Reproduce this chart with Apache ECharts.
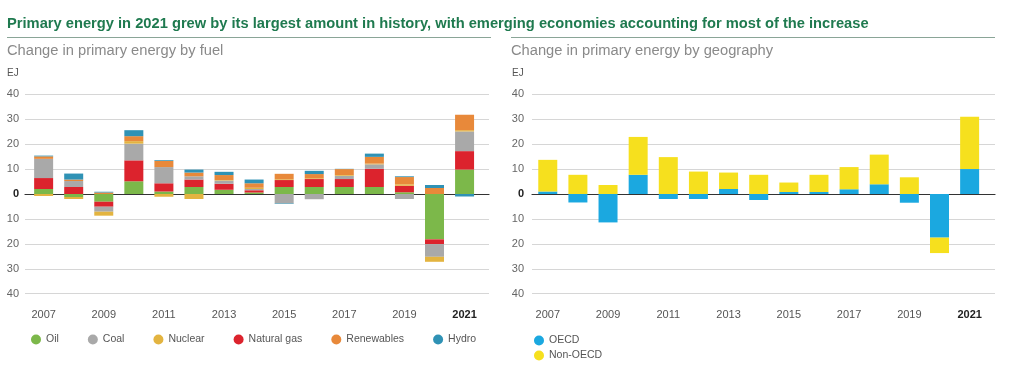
<!DOCTYPE html>
<html>
<head>
<meta charset="utf-8">
<script src="https://cdn.jsdelivr.net/npm/echarts@6/dist/echarts.min.js"></script>
<style>
html,body{margin:0;padding:0;background:#fff;}
#c{width:1009px;height:372px;}
</style>
</head>
<body>
<div id="c"></div>
<script>
// ---- data ----
var years = ['2007','2008','2009','2010','2011','2012','2013','2014','2015','2016','2017','2018','2019','2020','2021'];
var oil     = [2.0, -1.2, -3.1, 5.1, 1.0, 2.8, 1.7, 0.6, 2.8, 2.8, 2.8, 2.8, 0.7, -18.2, 9.8];
var gas     = [4.4, 2.8, -2.0, 8.4, 3.3, 3.0, 2.4, 0.9, 2.8, 3.2, 3.2, 7.3, 2.6, -1.9, 7.4];
var coal    = [7.7, 2.4, -2.0, 6.7, 6.5, 1.3, 1.3, 0.5, -3.8, -2.1, 1.3, 1.8, -2.0, -5.1, 7.9];
var nuclear = [-0.8, -0.8, -1.6, 1.0, -1.1, -2.0, 0.2, 0.5, 0.3, 0.3, 0.3, 0.3, 0.6, -2.0, 0.5];
var renew   = [1.0, 0.6, 0.6, 2.0, 2.5, 1.5, 2.0, 1.8, 2.2, 1.7, 2.4, 2.7, 2.9, 2.4, 6.2];
var hydro   = [0.3, 2.4, 0.3, 2.4, 0.3, 1.2, 1.3, 1.5, -0.2, 1.3, 0.1, 1.3, 0.3, 1.2, -1.0];
var oecd    = [1.0, -3.4, -11.4, 7.7, -2.0, -2.0, 2.0, -2.4, 0.8, 0.8, 1.9, 3.9, -3.5, -17.5, 10.0];
var nonOecd = [12.7, 7.7, 3.6, 15.2, 14.8, 9.0, 6.6, 7.7, 3.8, 6.9, 8.9, 11.9, 6.7, -6.2, 21.0];
var yTicks  = {min: -40, max: 40, interval: 10};
var fuelLegend = ['Oil','Coal','Nuclear','Natural gas','Renewables','Hydro'];
var geoLegend = ['OECD','Non-OECD'];
var titleText = 'Primary energy in 2021 grew by its largest amount in history, with emerging economies accounting for most of the increase';
var leftSub = 'Change in primary energy by fuel';
var rightSub = 'Change in primary energy by geography';
var unit = 'EJ';

// ---- styles ----
var C = {oil:'#7cb84a', coal:'#a9a9a9', nuclear:'#e3b440', gas:'#dc232d', renew:'#e8893a', hydro:'#2f92b5', oecd:'#1ba8e0', non:'#f6e01e'};
var FONT = 'Liberation Sans, Arial, sans-serif';
var TOP = 94.3, H = 199.4;

var chart = echarts.init(document.getElementById('c'), null, {renderer:'canvas'});

function bgY(gi, margin){
  return {type:'value', gridIndex:gi, min:yTicks.min, max:yTicks.max, interval:yTicks.interval,
    axisLine:{show:false}, axisTick:{show:false},
    splitLine:{lineStyle:{color:'#d6d6d6', width:1}},
    axisLabel:{margin:margin, color:'#666', fontSize:11, fontFamily:FONT,
      formatter:function(v){ return v===0 ? '{b|0}' : String(Math.abs(v)); },
      rich:{b:{fontWeight:'bold', color:'#222', fontSize:11, fontFamily:FONT}}}};
}
function bgX(gi){
  return {type:'value', gridIndex:gi, min:0, max:1, axisLine:{show:true, onZero:true, lineStyle:{color:'#333', width:1.2}},
    axisTick:{show:false}, axisLabel:{show:false}, splitLine:{show:false}};
}
function barY(gi){
  return {type:'value', gridIndex:gi, min:yTicks.min, max:yTicks.max, interval:yTicks.interval, show:false, splitLine:{show:false}};
}
function barX(gi){
  return {type:'category', gridIndex:gi, data:years, position:'bottom',
    axisLine:{show:false, onZero:false}, axisTick:{show:false}, splitLine:{show:false},
    axisLabel:{interval:1, margin:16, color:'#555', fontSize:11, fontFamily:FONT,
      formatter:function(v){ return v==='2021' ? '{b|'+v+'}' : v; },
      rich:{b:{fontWeight:'bold', color:'#222', fontSize:11, fontFamily:FONT}}}};
}
function bar(name, data, color, xi, stack){
  return {name:name, type:'bar', data:data, stack:stack, xAxisIndex:xi, yAxisIndex:xi, barWidth:19,
    itemStyle:{color:color}, emphasis:{disabled:true}};
}

var option = {
  animation:false,
  backgroundColor:'#fff',
  textStyle:{fontFamily:FONT},
  grid:[
    {left:25, width:464, top:TOP, height:H},
    {left:28.6, width:451, top:TOP, height:H},
    {left:532, width:463, top:TOP, height:H},
    {left:532.7, width:452, top:TOP, height:H}
  ],
  xAxis:[bgX(0), barX(1), bgX(2), barX(3)],
  yAxis:[bgY(0,6), barY(1), bgY(2,8), barY(3)],
  legend:[
    {data:fuelLegend, left:26, top:329, icon:'circle', itemWidth:10, itemHeight:10, itemGap:29,
      textStyle:{color:'#555', fontSize:10.5, fontFamily:FONT}, selectedMode:false},
    {data:geoLegend, left:529, top:330, orient:'vertical', icon:'circle', itemWidth:10, itemHeight:10, itemGap:4,
      textStyle:{color:'#555', fontSize:10.5, fontFamily:FONT}, selectedMode:false}
  ],
  series:[
    bar('Oil', oil, C.oil, 1, 'fuel'),
    bar('Natural gas', gas, C.gas, 1, 'fuel'),
    bar('Coal', coal, C.coal, 1, 'fuel'),
    bar('Nuclear', nuclear, C.nuclear, 1, 'fuel'),
    bar('Renewables', renew, C.renew, 1, 'fuel'),
    bar('Hydro', hydro, C.hydro, 1, 'fuel'),
    bar('OECD', oecd, C.oecd, 3, 'geo'),
    bar('Non-OECD', nonOecd, C.non, 3, 'geo')
  ],
  graphic:[
    {type:'text', left:7, top:16, style:{text:titleText, fill:'#1f7a4f', font:'bold 14.7px '+FONT}},
    {type:'line', shape:{x1:7, y1:37.5, x2:491, y2:37.5}, style:{stroke:'#8aa597', lineWidth:1}},
    {type:'line', shape:{x1:511, y1:37.5, x2:995, y2:37.5}, style:{stroke:'#8aa597', lineWidth:1}},
    {type:'text', left:7, top:43, style:{text:leftSub, fill:'#8a8a8a', font:'14.7px '+FONT}},
    {type:'text', left:511, top:43, style:{text:rightSub, fill:'#8a8a8a', font:'14.7px '+FONT}},
    {type:'text', left:7, top:68, style:{text:unit, fill:'#555', font:'10px '+FONT}},
    {type:'text', left:512, top:68, style:{text:unit, fill:'#555', font:'10px '+FONT}}
  ]
};
chart.setOption(option);
</script>
</body>
</html>
